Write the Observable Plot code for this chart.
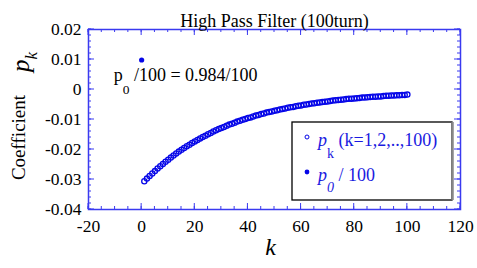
<!DOCTYPE html>
<html><head><meta charset="utf-8">
<script src="https://cdn.jsdelivr.net/npm/d3@7"></script>
<script src="https://cdn.jsdelivr.net/npm/@observablehq/plot@0.6"></script>
<style>body{margin:0;background:#fff;} svg{display:block}</style>
</head><body><div id="chart"></div>
<script>
const title = "High Pass Filter (100turn)";
const kValues = d3.range(1, 101);
const pk = [-0.0306,-0.0297,-0.0288,-0.0280,-0.0272,-0.0263,-0.0256,-0.0248,-0.0241,-0.0234,
-0.0227,-0.0220,-0.0213,-0.0207,-0.0201,-0.0195,-0.0189,-0.0184,-0.0178,-0.0173,
-0.0168,-0.0163,-0.0158,-0.0154,-0.0149,-0.0145,-0.0140,-0.0136,-0.0132,-0.0128,
-0.0125,-0.0121,-0.0117,-0.0114,-0.0111,-0.0107,-0.0104,-0.0101,-0.0098,-0.0095,
-0.0093,-0.0090,-0.0087,-0.0085,-0.0082,-0.0080,-0.0077,-0.0075,-0.0073,-0.0071,
-0.0069,-0.0067,-0.0065,-0.0063,-0.0061,-0.0059,-0.0058,-0.0056,-0.0054,-0.0053,
-0.0051,-0.0050,-0.0048,-0.0047,-0.0046,-0.0044,-0.0043,-0.0042,-0.0041,-0.0040,
-0.0038,-0.0037,-0.0036,-0.0035,-0.0034,-0.0033,-0.0032,-0.0031,-0.0031,-0.0030,
-0.0029,-0.0028,-0.0027,-0.0027,-0.0026,-0.0025,-0.0024,-0.0024,-0.0023,-0.0023,
-0.0022,-0.0021,-0.0021,-0.0020,-0.0020,-0.0019,-0.0019,-0.0018,-0.0018,-0.0017];
const p0 = 0.984;
const p0Points = [{k: 0, p: p0 / 100}];
const annotation = ["p0 /100 = 0.984/100"];
const xTicks = [-20, 0, 20, 40, 60, 80, 100, 120];
const xTickLabels = ["-20", "0", "20", "40", "60", "80", "100", "120"];
const yTicks = [-0.04, -0.03, -0.02, -0.01, 0, 0.01, 0.02];
const yTickLabels = ["-0.04", "-0.03", "-0.02", "-0.01", "0", "0.01", "0.02"];
const xMinor = d3.range(-20, 125, 5);
const yMinor = d3.range(-20, 11).map(i => i * 0.002);
const xLabel = "k";
const yLabelMain = "Coefficient";

const blue = "#0606e8", frameBlue = "#3a3af0", legendBlue = "#1a1ae0";
const data = kValues.map((k, i) => ({k, p: pk[i]}));
const serif = "'Liberation Serif', 'Times New Roman', serif";
const W = 477, H = 268, mL = 88, mR = 17, mT = 29, mB = 59;

const plot = Plot.plot({
  width: W, height: H,
  marginLeft: mL, marginRight: mR, marginTop: mT, marginBottom: mB,
  x: {domain: [-20, 120]},
  y: {domain: [-0.04, 0.02]},
  style: {fontFamily: serif, background: "#fff", color: "#000", overflow: "visible"},
  marks: [
    Plot.axisX(xTicks, {anchor: "bottom", tickSize: 0, tickPadding: 10, fontSize: 17.5,
      tickFormat: d => xTickLabels[xTicks.indexOf(d)], label: null}),
    Plot.axisY(yTicks, {anchor: "left", tickSize: 0, tickPadding: 7, fontSize: 17.5,
      tickFormat: d => yTickLabels[yTicks.indexOf(d)], label: null}),
    Plot.frame({stroke: frameBlue, strokeWidth: 1.5}),
    Plot.dot(data, {x: "k", y: "p", r: 2.6, stroke: blue, strokeWidth: 1.3, fill: "none"}),
    Plot.dot(p0Points, {x: "k", y: "p", r: 2.6, fill: blue}),
    Plot.text(annotation, {x: () => 0, y: () => p0 / 100, dx: -28, dy: 15.7, textAnchor: "start", fontSize: 18, fill: "#000"}),
    Plot.text([title], {frameAnchor: "top", dy: -14.8, fontSize: 18, fill: "#000"}),
    Plot.text([xLabel], {frameAnchor: "bottom", dx: -4, dy: 45.3, fontSize: 24, fontStyle: "italic", fill: "#000"})
  ]
});

function rich(el, segs, fontSize) {
  const t = d3.select(el);
  t.text(null);
  let shift = 0;
  for (const s of segs) {
    const ts = t.append("tspan").text(s.t);
    const target = s.shift || 0;
    if (target !== shift) { ts.attr("dy", target - shift); shift = target; }
    ts.attr("font-size", s.size || fontSize);
    ts.attr("font-style", s.i ? "italic" : "normal");
  }
}

const svg = d3.select(plot);
svg.selectAll("text").each(function() {
  if (this.textContent === annotation[0]) {
    rich(this, [{t: "p"}, {t: "0", size: 13.5, shift: 13}, {t: " /100 = 0.984/100"}], 18);
  }
});

// inward tick marks, mirrored on all four sides, placed through Plot's scales
const xs = plot.scale("x"), ys = plot.scale("y");
const fx0 = mL, fx1 = W - mR, fy0 = mT, fy1 = H - mB;
const tg = svg.append("g").attr("stroke", frameBlue).attr("stroke-width", 1);
function xTick(v, len) {
  const x = xs.apply(v);
  tg.append("line").attr("x1", x).attr("x2", x).attr("y1", fy1).attr("y2", fy1 - len);
  tg.append("line").attr("x1", x).attr("x2", x).attr("y1", fy0).attr("y2", fy0 + len);
}
function yTick(v, len) {
  const y = ys.apply(v);
  tg.append("line").attr("y1", y).attr("y2", y).attr("x1", fx0).attr("x2", fx0 + len);
  tg.append("line").attr("y1", y).attr("y2", y).attr("x1", fx1).attr("x2", fx1 - len);
}
xMinor.forEach(v => xTick(v, 3));
xTicks.forEach(v => xTick(v, 6));
yMinor.forEach(v => yTick(v, 3));
yTicks.forEach(v => yTick(v, 6));

// y axis label
svg.append("text").attr("transform", "translate(25,137.5) rotate(-90)")
  .attr("text-anchor", "middle").attr("font-family", serif).attr("font-size", 19).attr("fill", "#000")
  .text(yLabelMain);
const ysym = svg.append("text").attr("transform", "translate(29,62) rotate(-90)")
  .attr("text-anchor", "middle").attr("font-family", serif).attr("fill", "#000").node();
rich(ysym, [{t: "p", i: true}, {t: "k", i: true, size: 17, shift: 8}], 25);

// legend
const lx = fx1 - 168, ly = fy0 + 93, lw = 160, lh = 78;
const lg = svg.append("g").attr("text-anchor", "start");
lg.append("rect").attr("x", lx).attr("y", ly).attr("width", lw).attr("height", lh)
  .attr("fill", "#fff").attr("stroke", "#000").attr("stroke-width", 1.3);
lg.append("line").attr("x1", lx + lw + 0.5).attr("x2", lx + lw + 0.5).attr("y1", ly).attr("y2", ly + lh)
  .attr("stroke", "#888").attr("stroke-width", 2.5);
lg.append("circle").attr("cx", lx + 15).attr("cy", ly + 15).attr("r", 2).attr("fill", "none").attr("stroke", blue).attr("stroke-width", 1);
lg.append("circle").attr("cx", lx + 15).attr("cy", ly + 50).attr("r", 2.4).attr("fill", blue);
const lt1 = lg.append("text").attr("x", lx + 26).attr("y", ly + 24).attr("fill", legendBlue)
  .attr("font-family", serif).attr("font-size", 18).node();
rich(lt1, [{t: "p", i: true}, {t: "k", size: 14, shift: 12}, {t: " (k=1,2,..,100)"}], 18);
const lt2 = lg.append("text").attr("x", lx + 26).attr("y", ly + 59).attr("fill", legendBlue)
  .attr("font-family", serif).attr("font-size", 18).node();
rich(lt2, [{t: "p", i: true}, {t: "0", i: true, size: 14, shift: 11}, {t: " / 100"}], 18);

document.getElementById("chart").appendChild(plot);
</script>
</body></html>
